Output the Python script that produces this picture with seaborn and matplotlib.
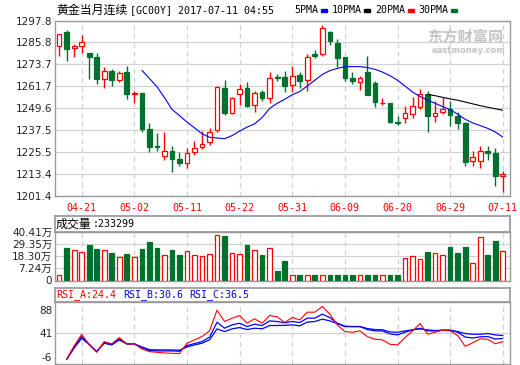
import numpy as np
import pandas as pd
import matplotlib
matplotlib.use("Agg")
import matplotlib.pyplot as plt
from matplotlib.patches import Rectangle
import seaborn as sns

# --- données (GC00Y, 2017-04-18 -> 2017-07-11) ---
dates = ["04-18", "04-19", "04-20", "04-21", "04-24", "04-25", "04-26", "04-27", "04-28",
         "05-01", "05-02", "05-03", "05-04", "05-05", "05-08", "05-09", "05-10", "05-11",
         "05-12", "05-15", "05-16", "05-17", "05-18", "05-19", "05-22", "05-23", "05-24",
         "05-25", "05-26", "05-29", "05-30", "05-31", "06-01", "06-02", "06-05", "06-06",
         "06-07", "06-08", "06-09", "06-12", "06-13", "06-14", "06-15", "06-16", "06-19",
         "06-20", "06-21", "06-22", "06-23", "06-26", "06-27", "06-28", "06-29", "06-30",
         "07-03", "07-05", "07-06", "07-07", "07-10", "07-11"]

opens = [1284.1, 1291.5, 1282.5, 1283.6, 1279.9, 1277.7, 1265.9, 1269.9, 1265.3, 1269.4,
         1257.4, 1257.7, 1238.4, 1228.6, 1223.2, 1226.0, 1221.7, 1219.2, 1225.3, 1228.0,
         1231.0, 1237.6, 1260.9, 1246.9, 1257.4, 1260.5, 1251.5, 1258.3, 1255.3, 1266.8,
         1267.0, 1262.5, 1267.7, 1265.3, 1279.5, 1279.7, 1291.5, 1285.4, 1277.7, 1266.0,
         1264.2, 1269.4, 1263.3, 1252.2, 1252.2, 1242.0, 1244.3, 1246.3, 1250.5, 1257.6,
         1245.4, 1247.6, 1249.4, 1245.2, 1241.7, 1220.3, 1220.5, 1226.2, 1224.7, 1212.1]
highs = [1290.4, 1292.6, 1285.2, 1289.7, 1280.2, 1279.9, 1272.5, 1271.0, 1270.1, 1272.7,
         1259.0, 1258.0, 1241.7, 1236.1, 1236.5, 1228.9, 1225.4, 1227.8, 1231.5, 1236.9,
         1238.9, 1261.6, 1264.9, 1255.9, 1262.7, 1263.8, 1258.8, 1259.4, 1269.4, 1268.4,
         1269.9, 1273.1, 1269.4, 1279.3, 1281.9, 1295.6, 1292.0, 1287.5, 1278.0, 1269.4,
         1267.2, 1278.2, 1264.6, 1255.0, 1252.5, 1245.4, 1250.9, 1255.9, 1260.0, 1258.8,
         1253.5, 1255.5, 1253.5, 1247.6, 1242.0, 1226.0, 1228.6, 1228.6, 1227.8, 1215.1]
lows = [1278.6, 1275.6, 1277.9, 1280.1, 1265.7, 1262.9, 1260.7, 1261.8, 1264.2, 1254.6,
        1252.4, 1236.3, 1225.6, 1225.8, 1220.8, 1214.2, 1217.5, 1216.8, 1224.0, 1226.9,
        1229.5, 1236.3, 1245.7, 1246.5, 1251.3, 1250.5, 1247.4, 1253.5, 1252.4, 1264.4,
        1258.5, 1258.5, 1260.7, 1259.2, 1277.3, 1278.4, 1284.5, 1272.3, 1264.4, 1263.1,
        1259.8, 1256.8, 1250.2, 1251.1, 1241.5, 1240.6, 1241.5, 1244.3, 1249.4, 1236.3,
        1241.9, 1246.3, 1239.8, 1238.4, 1218.0, 1218.0, 1216.8, 1220.8, 1206.6, 1203.7]
closes = [1290.4, 1282.3, 1283.8, 1286.0, 1277.9, 1265.7, 1270.3, 1265.1, 1269.2, 1257.4,
          1257.8, 1238.4, 1228.4, 1228.2, 1226.0, 1221.4, 1219.2, 1224.9, 1227.7, 1229.9,
          1236.3, 1261.1, 1246.9, 1255.3, 1260.3, 1250.7, 1258.1, 1255.2, 1266.4, 1266.4,
          1261.6, 1267.5, 1264.6, 1278.0, 1278.6, 1293.6, 1286.4, 1277.5, 1266.4, 1264.8,
          1266.4, 1257.0, 1253.1, 1252.6, 1241.9, 1241.7, 1247.0, 1250.9, 1257.6, 1245.2,
          1247.0, 1249.4, 1245.7, 1241.3, 1219.7, 1222.9, 1226.0, 1224.7, 1212.0, 1213.4]

# volume en 万
volumes = [0.9, 26.2, 24.3, 22.4, 29.0, 25.2, 24.3, 21.5, 17.7, 20.5,
           17.7, 25.2, 30.9, 26.2, 19.2, 24.3, 19.6, 23.0, 19.2, 18.6,
           20.2, 37.3, 36.6, 21.1, 20.2, 28.1, 24.3, 19.6, 25.9, 4.4,
           13.9, 1.2, 1.2, 1.2, 1.2, 1.2, 1.2, 1.2, 1.2, 1.2,
           1.2, 1.2, 1.2, 1.2, 1.2, 1.2, 16.7, 18.3, 15.5, 22.4,
           21.1, 19.2, 27.1, 21.5, 27.1, 11.7, 35.4, 19.6, 31.9, 23.33]

nan = np.nan
ma_blue = [nan] * 11 + [1270.5, 1266.0, 1261.5, 1255.5, 1249.0, 1245.5, 1242.0, 1238.8, 1235.5,
                        1233.6, 1233.2, 1232.8, 1234.5, 1237.0, 1239.2, 1241.0, 1244.5, 1249.5,
                        1252.3, 1254.5, 1257.0, 1258.8, 1261.8, 1265.0, 1268.2, 1270.3, 1271.5,
                        1272.5, 1272.5, 1272.5, 1272.0, 1271.0, 1269.5, 1267.5, 1265.0, 1261.8,
                        1258.5, 1256.0, 1254.0, 1252.3, 1250.5, 1248.8, 1246.3, 1243.5, 1241.5,
                        1240.0, 1238.5, 1236.5, 1233.7]
ma_black = [nan] * 49 + [1257.2, 1256.5, 1255.6, 1254.7, 1254.0, 1253.0, 1252.0, 1251.0,
                         1250.1, 1249.3, 1248.5]

rsi_a = [nan, -11.0, 16.0, 39.0, 18.0, 3.0, 24.4, 19.7, 32.4, 19.7,
         19.7, 9.7, 4.3, 3.0, 1.6, 1.0, 0.3, 21.1, 27.8, 34.4,
         45.8, 87.4, 64.6, 71.3, 76.6, 61.2, 70.0, 61.2, 76.6, 74.0,
         62.6, 72.6, 67.9, 83.3, 83.3, 94.7, 79.3, 57.9, 44.5, 43.1,
         45.8, 34.4, 29.1, 27.8, 19.0, 17.7, 32.4, 45.8, 60.6, 39.1,
         43.1, 47.2, 45.8, 36.5, 15.0, 22.0, 30.0, 29.0, 20.0, 24.4]
rsi_b = [nan, -11.0, 13.6, 34.5, 19.0, 4.3, 23.0, 19.0, 29.7, 19.7,
         19.7, 12.4, 6.3, 5.7, 5.7, 5.7, 5.0, 16.4, 20.4, 24.4,
         33.1, 63.2, 51.2, 57.9, 61.2, 54.5, 59.2, 56.6, 65.9, 64.6,
         62.0, 64.6, 62.6, 71.3, 71.3, 79.3, 72.6, 61.2, 54.5, 54.5,
         54.5, 48.5, 45.8, 45.8, 39.8, 37.8, 43.1, 47.8, 51.2, 45.8,
         45.8, 47.2, 47.2, 43.1, 33.5, 31.5, 34.0, 34.5, 29.5, 30.6]
rsi_c = [nan, -11.0, 11.6, 31.0, 18.5, 4.3, 21.0, 17.6, 27.7, 19.7,
         19.7, 13.7, 8.3, 7.7, 7.7, 7.7, 7.0, 13.7, 17.7, 21.1,
         27.8, 49.9, 44.5, 49.9, 52.5, 48.5, 51.2, 49.9, 56.6, 56.6,
         57.0, 57.9, 55.9, 63.3, 64.6, 69.3, 65.9, 60.5, 55.2, 54.5,
         54.5, 50.5, 48.5, 48.0, 43.8, 43.1, 45.8, 47.8, 49.9, 47.8,
         46.5, 47.2, 47.2, 44.5, 40.5, 39.1, 39.1, 40.5, 37.8, 36.5]

price_ticks = [1201.4, 1213.4, 1225.5, 1237.5, 1249.6, 1261.7, 1273.7, 1285.8, 1297.8]
vol_ticks = [7.24, 18.30, 29.35, 40.41]
vol_floor = -3.82
rsi_ticks = [-6, 41, 88]
date_tick_idx = list(range(3, 60, 7))

df = pd.DataFrame({"idx": np.arange(len(dates)), "open": opens, "high": highs, "low": lows,
                   "close": closes, "vol": volumes, "ma_blue": ma_blue, "ma_black": ma_black,
                   "rsi_a": rsi_a, "rsi_b": rsi_b, "rsi_c": rsi_c})

sns.set_theme(style="white")
plt.rcParams["font.family"] = ["DejaVu Sans", "Noto Sans CJK SC"]

RED = "#ff0000"
GREEN = "#00702e"
BORDER = "#9a9a9a"
GRID = "#d2d2d2"
W, H = 520, 365
fig = plt.figure(figsize=(W / 100, H / 100), dpi=100)


def box(x0, y0, x1, y1):
    # coordonnées en pixels (origine en haut à gauche)
    return [x0 / W, 1 - y1 / H, (x1 - x0) / W, (y1 - y0) / H]


def ftext(x, y, s, **kw):
    fig.text(x / W, 1 - y / H, s, va="center", ha="left", **kw)


def style_axes(ax):
    for sp in ax.spines.values():
        sp.set_color(BORDER)
        sp.set_linewidth(1.0)
    ax.set_xlim(-0.55, 59.96)
    ax.set_xticks(date_tick_idx)
    ax.grid(axis="x", color=GRID, linestyle=(0, (4, 3)), linewidth=0.9)
    ax.tick_params(length=0, labelsize=7, pad=2)
    ax.set_xlabel("")
    ax.set_ylabel("")


up = df["close"] >= df["open"]
colors = np.where(up, RED, GREEN)
faces = np.where(up, "white", GREEN)

# --- prix ---
ax1 = fig.add_axes(box(55, 20.7, 510, 195.7))
style_axes(ax1)
ax1.set_ylim(1201.4, 1297.8)
ax1.set_yticks(price_ticks)
ax1.set_yticklabels([f"{v:.1f}" for v in price_ticks], fontsize=7.5, color="#222222")
ax1.grid(axis="y", color=GRID, linestyle="-", linewidth=0.9)
ax1.set_xticklabels([dates[i] for i in date_tick_idx], color=RED, fontsize=7.2,
                    family="DejaVu Sans Mono")
ax1.tick_params(axis="x", pad=5)
ax1.vlines(df["idx"], df["low"], df["high"], colors=colors, linewidth=1.0, zorder=2)
body_lo = np.minimum(df["open"], df["close"])
body_h = np.maximum(np.abs(df["close"] - df["open"]), 0.25)
ax1.bar(df["idx"], body_h, bottom=body_lo, width=0.62, color=faces, edgecolor=colors,
        linewidth=0.9, zorder=3)
sns.lineplot(data=df.dropna(subset=["ma_blue"]), x="idx", y="ma_blue", color="#0000ff",
             linewidth=0.8, ax=ax1, zorder=4)
sns.lineplot(data=df.dropna(subset=["ma_black"]), x="idx", y="ma_black", color="black",
             linewidth=0.8, ax=ax1, zorder=4)
ax1.set_xlabel("")
ax1.set_ylabel("")
ax1.text(0.985, 0.955, "东方财富网", transform=ax1.transAxes, ha="right", va="top",
         fontsize=11, fontweight="bold", color="#c4c4c4", family="Noto Sans CJK SC", zorder=1)
ax1.text(0.99, 0.855, "eastmoney.com", transform=ax1.transAxes, ha="right", va="top",
         fontsize=6, fontweight="bold", color="#c4c4c4", zorder=1)

# --- volume ---
ax_vt = fig.add_axes(box(55, 215.5, 510, 232))
ax_vt.set_xticks([])
ax_vt.set_yticks([])
for sp in ax_vt.spines.values():
    sp.set_color(BORDER)
ax2 = fig.add_axes(box(55, 232, 510, 280.5))
style_axes(ax2)
ax2.set_ylim(vol_floor, 40.41)
ax2.set_yticks([vol_floor] + vol_ticks)
ax2.set_yticklabels(["0"] + [f"{v:.2f}万" for v in vol_ticks], fontsize=7.5, color="#222222")
ax2.grid(axis="y", color=GRID, linestyle="-", linewidth=0.9)
ax2.set_xticklabels([])
ax2.bar(df["idx"], df["vol"] - vol_floor, bottom=vol_floor, width=0.62, color=faces,
        edgecolor=colors, linewidth=0.9, zorder=3)

# --- RSI ---
ax_rt = fig.add_axes(box(55, 288, 510, 301.5))
ax_rt.set_xticks([])
ax_rt.set_yticks([])
for sp in ax_rt.spines.values():
    sp.set_color(BORDER)
ax3 = fig.add_axes(box(55, 301.5, 510, 364))
style_axes(ax3)
ax3.set_ylim(-20.5, 104.7)
ax3.set_yticks(rsi_ticks)
ax3.set_yticklabels([str(v) for v in rsi_ticks], fontsize=7.5, color="#222222")
ax3.axhline(41, color=GRID, linewidth=0.9, zorder=1)
ax3.set_xticklabels([])
rsi = df.dropna(subset=["rsi_a"])
sns.lineplot(data=rsi, x="idx", y="rsi_c", color="#0000ff", linewidth=0.9, ax=ax3, zorder=3)
sns.lineplot(data=rsi, x="idx", y="rsi_b", color="#0000ff", linewidth=0.9, ax=ax3, zorder=3)
sns.lineplot(data=rsi, x="idx", y="rsi_a", color=RED, linewidth=0.8, ax=ax3, zorder=4)
ax3.set_xlabel("")
ax3.set_ylabel("")

# --- textes d'en-tête ---
mono = "DejaVu Sans Mono"
ftext(56, 10, "黄金当月连续", fontsize=8.6, family="Noto Sans CJK SC", color="black")
ftext(130, 10, "[GC00Y] 2017-07-11 04:55", fontsize=7.2, family=mono, color="black")
legend = [("5PMA", "#0000ff", 294), ("10PMA", "black", 331.5),
          ("20PMA", RED, 375), ("30PMA", GREEN, 418)]
for lab, col, x0 in legend:
    ftext(x0, 10, lab, fontsize=7.2, family=mono, color="black")
    xr = x0 + len(lab) * 5.9 + 3
    fig.add_artist(Rectangle((xr / W, 1 - 11.5 / H), 6 / W, 3 / H, color=col,
                             transform=fig.transFigure))

ftext(56, 224, "成交量", fontsize=8.6, family="Noto Sans CJK SC", color="black")
ftext(93, 224, ":233299", fontsize=7.2, family=mono, color="black")
ftext(56, 295, "RSI_A:24.4", fontsize=7.2, family=mono, color=RED)
ftext(123, 295, "RSI_B:30.6", fontsize=7.2, family=mono, color="#0000ff")
ftext(189, 295, "RSI_C:36.5", fontsize=7.2, family=mono, color="#0000ff")

fig.savefig("out.png", dpi=100, facecolor="white")
